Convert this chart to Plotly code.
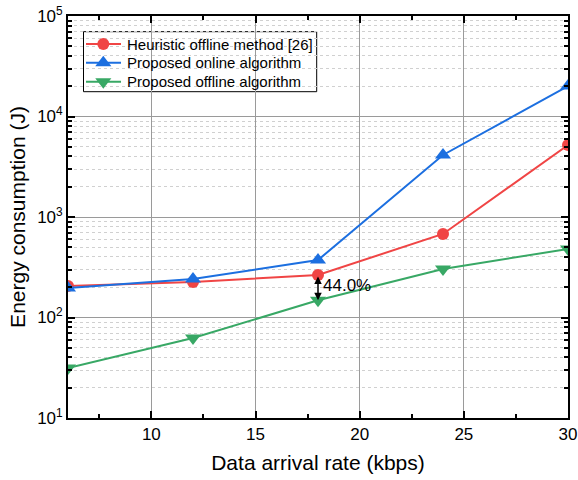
import numpy as np
import plotly.graph_objects as go

rates = [6, 12, 18, 24, 30]
heuristic = [206, 225, 265, 678, 5200]
online = [197, 241, 373, 4140, 20100]
offline = [31.4, 62.5, 148.4, 304, 481]
names = ["Heuristic offline method [26]", "Proposed online algorithm", "Proposed offline algorithm"]
x_ticks = [10, 15, 20, 25, 30]
y_ticks = [10, 100, 1000, 10000, 100000]
y_ticktext = ["10<sup>1</sup>", "10<sup>2</sup>", "10<sup>3</sup>", "10<sup>4</sup>", "10<sup>5</sup>"]
reduction_text = "44.0%"

red = "#f04545"
blue = "#1c6fe0"
green = "#38a865"
colors = [red, blue, green]
symbols = ["circle", "triangle-up", "triangle-down"]
msizes = [12, 14, 14]
series = [heuristic, online, offline]

fig = go.Figure()
for name, vals, c, s, ms in zip(names, series, colors, symbols, msizes):
    fig.add_trace(go.Scatter(x=rates, y=vals, name=name, mode="lines+markers", showlegend=False,
                             line=dict(color=c, width=2), marker=dict(symbol=s, size=ms, color=c)))

# custom compact legend (box, sample lines, markers, labels)
leg_rows = [0.9303, 0.8838, 0.8366]
fig.add_shape(type="rect", xref="paper", yref="paper", x0=0.031, x1=0.4974, y0=0.8117, y1=0.961,
              line=dict(color="black", width=1), fillcolor="white", layer="between")
for name, c, s, ms, ry in zip(names, colors, symbols, msizes, leg_rows):
    fig.add_shape(type="line", xref="paper", yref="paper", x0=0.036, x1=0.106, y0=ry, y1=ry,
                  line=dict(color=c, width=2), layer="between")
    fig.add_trace(go.Scatter(x=[0.0706], y=[ry], xaxis="x2", yaxis="y2", mode="markers",
                             showlegend=False, hoverinfo="skip",
                             marker=dict(symbol=s, size=ms, color=c)))
    fig.add_annotation(x=0.114, y=ry, xref="paper", yref="paper", text=name, showarrow=False,
                       xanchor="left", yanchor="middle", font=dict(size=15, color="black"))

minor_y = [m * 10 ** e for e in range(1, 5) for m in range(2, 10)]
minor_x = [7.5, 12.5, 17.5, 22.5, 27.5]

fig.add_annotation(x=rates[2], y=np.log10(offline[2]), ax=rates[2], ay=np.log10(heuristic[2]),
                   xref="x", yref="y", axref="x", ayref="y", showarrow=True,
                   arrowhead=2, startarrowhead=2, arrowside="end+start", arrowsize=1,
                   arrowwidth=1.5, arrowcolor="black", text="")
fig.add_annotation(x=rates[2], y=np.log10(np.sqrt(heuristic[2] * offline[2])), xref="x", yref="y",
                   text=reduction_text, showarrow=False, xanchor="left", xshift=3, yshift=2,
                   font=dict(size=17, color="black"))

fig.update_layout(
    width=578, height=480,
    margin=dict(l=68, r=10, t=16, b=62),
    plot_bgcolor="white", paper_bgcolor="white",
    font=dict(family="Liberation Sans, Arial, sans-serif", color="black"),
    showlegend=False,
    xaxis2=dict(overlaying="x", range=[0, 1], visible=False, fixedrange=True),
    yaxis2=dict(overlaying="y", range=[0, 1], visible=False, fixedrange=True),
)
fig.update_xaxes(selector=dict(anchor="y"))
fig.update_layout(xaxis=dict(range=[6, 30], tickvals=x_ticks, ticks="inside", ticklen=7, tickwidth=1.5,
                 tickcolor="black", showline=True, linecolor="black", linewidth=1.8, mirror="ticks",
                 showgrid=True, gridcolor="#9a9a9a", gridwidth=1, zeroline=False, automargin=False,
                 tickfont=dict(size=17),
                 title=dict(text="Data arrival rate (kbps)", font=dict(size=21), standoff=12),
                 minor=dict(tickvals=minor_x, ticks="inside", ticklen=4, tickcolor="black", showgrid=False)))
fig.update_layout(yaxis=dict(type="log", range=[1, 5], tickvals=y_ticks, ticktext=y_ticktext, ticks="inside",
                 ticklen=7, tickwidth=1.5, tickcolor="black", showline=True, linecolor="black",
                 linewidth=1.8, mirror="ticks", showgrid=True, gridcolor="#9a9a9a", gridwidth=1,
                 zeroline=False, automargin=False, tickfont=dict(size=17),
                 title=dict(text="Energy consumption (J)", font=dict(size=21), standoff=6),
                 minor=dict(tickvals=minor_y, ticks="inside", ticklen=4, tickcolor="black",
                            showgrid=True, gridcolor="#d0d0d0", griddash="dot", gridwidth=1)))

fig.write_html("out.html")
